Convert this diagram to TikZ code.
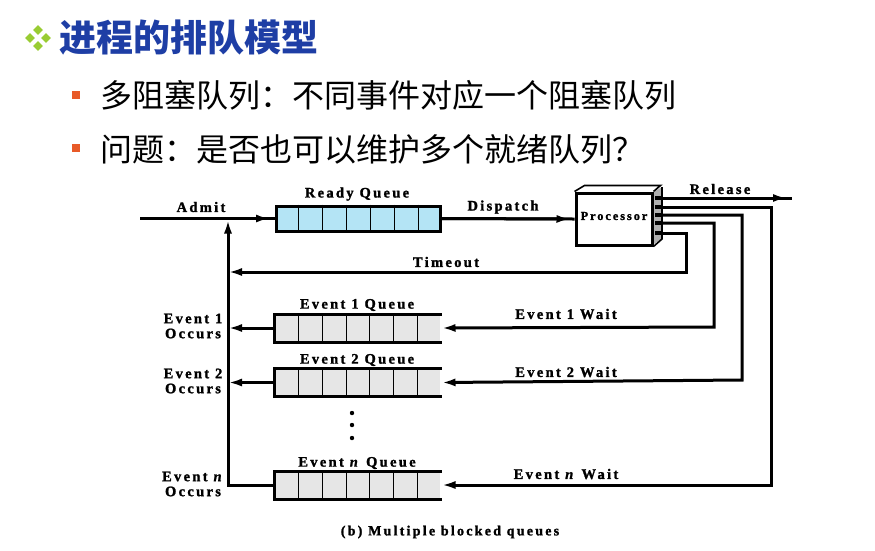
\documentclass[tikz,border=0pt]{standalone}
\usepackage{fontspec}
\setmainfont{Liberation Serif}
\newfontfamily\cjk{Noto Sans CJK SC}
\newfontfamily\diagfont[LetterSpace=16,FakeBold=1.5,ItalicFont={Liberation Serif Bold Italic}]{Liberation Serif Bold}
\usetikzlibrary{arrows.meta,calc}
\definecolor{titleblue}{RGB}{30,62,165}
\definecolor{bulgreen}{RGB}{153,204,51}
\definecolor{bulorange}{RGB}{232,90,40}
\definecolor{readyblue}{RGB}{180,228,245}
\definecolor{qgray}{RGB}{230,230,230}
\definecolor{sidegray}{RGB}{175,175,175}
\begin{document}
\begin{tikzpicture}[x=1pt,y=-1pt,
  ln/.style={line width=3pt},
  arr/.style={line width=3pt,-{Latex[length=14pt,width=8pt]}},
  lbl/.style={font=\diagfont\fontsize{14.5}{15}\selectfont,inner sep=0pt},
  occ/.style={lbl,align=center,font=\diagfont\fontsize{14.5}{15}\selectfont},
  qbox/.style={minimum width=164pt,minimum height=25pt,inner sep=0pt,line width=3pt},
  cell/.style={line width=1.1pt},
  bigtxt/.style={font=\cjk\fontsize{32}{36}\selectfont,inner sep=0pt,anchor=west},
  dia/.style={fill=bulgreen,draw=none},
  sq/.style={fill=bulorange,draw=none,minimum size=8pt,inner sep=0pt}
]
\useasboundingbox (0,0) rectangle (875,550);

% ---- heading ----
\foreach \dx/\dy [count=\k] in {0/-8,-8/0,8/0,0/8}
  \fill[dia] (38+\dx,38+\dy-4.8) -- (38+\dx+4.8,38+\dy) -- (38+\dx,38+\dy+4.8) -- (38+\dx-4.8,38+\dy) -- cycle;
\node[font=\cjk\bfseries\fontsize{37}{40}\selectfont,text=titleblue,inner sep=0pt,anchor=west] (title) at (59,38) {进程的排队模型};
\node[sq] (b1) at (76,95) {};
\node[bigtxt] (t1) at (100,95) {多阻塞队列：不同事件对应一个阻塞队列};
\node[sq] (b2) at (76,148) {};
\node[bigtxt] (t2) at (100,149) {问题：是否也可以维护多个就绪队列？};

% ---- queues ----
\node[qbox,fill=readyblue,draw] (rq) at (358.5,218.5) {};
\node[qbox,fill=qgray] (q1) at (358,328) {};
\node[qbox,fill=qgray] (q2) at (358,382.5) {};
\node[qbox,fill=qgray] (qn) at (358,485) {};
\foreach \q in {rq,q1,q2,qn}
  \foreach \i in {1,...,6}
    \draw[cell] ($(\q.north west)!\i/7!(\q.north east)$) -- ($(\q.south west)!\i/7!(\q.south east)$);
\foreach \q in {q1,q2,qn}
  \draw[line width=3pt] (\q.north east) -- (\q.north west) -- (\q.south west) -- (\q.south east);

% ---- processor ----
\fill[white] (576,193) -- (586,187) -- (662,187) -- (652,193) -- cycle;
\fill[sidegray] (652,193) -- (662,187) -- (662,239) -- (652,245) -- cycle;
\node[draw,line width=3pt,fill=white,minimum width=76pt,minimum height=52pt,inner sep=0pt] (proc) at (614,219) {};
\draw[line width=1.6pt] (proc.north west) -- ++(10,-6) -- ++(76,0) -- (proc.north east);
\draw[line width=1.6pt] (662,187) -- (662,239) -- (proc.south east);
\node[lbl,font=\diagfont\fontsize{12.3}{13}\selectfont] (proclbl) at (614,216) {Processor};

\foreach \y/\n in {198/p0,207/p1,215/p2,223/p3,233/p4}{
  \coordinate (\n) at (655,\y);
  \draw[line width=3.2pt] (\n) -- ++(8,0);
}

% ---- coordinates ----
\coordinate (admitStart) at (140,218.5);
\coordinate (join) at (228,219.5);
\coordinate (relEnd) at (792,198);
\coordinate (relTip) at (787,198);

% ---- connectors ----
\draw[ln] (admitStart) -- (rq.west);
\draw[arr] (admitStart) -- ([xshift=-5pt]rq.west);
\draw[ln] (rq.east) -- (proc.west);
\draw[arr] (rq.east) -- ([xshift=-4pt]proc.west);
\draw[ln] (p0) -- (relEnd);
\draw[arr] (p0) -- (relTip);
\draw[arr] (p4) -| (686,272) -- (228,272);
\draw[arr] (p3) -| (714,327) -- (q1.east);
\draw[arr] (p2) -| (742,380) -- (q2.east);
\draw[arr] (p1) -| (771,485) -- (qn.east);
\draw[arr] (q1.west) -- (228,328);
\draw[arr] (q2.west) -- (228,382.5);
\draw[arr] (qn.west) -| (join);

% ---- labels ----
\node[lbl] (admitlbl) at (201,207) {Admit};
\node[lbl] (rqlbl) at (357,194) {Ready Queue};
\node[lbl] (displbl) at (503,207) {Dispatch};
\node[lbl] (rellbl) at (720,189) {Release};
\node[lbl] (tolbl) at (446,262) {Timeout};
\node[lbl] (q1lbl) at (357,305) {Event 1 Queue};
\node[lbl] (q2lbl) at (357,360) {Event 2 Queue};
\node[lbl] (qnlbl) at (357,463) {Event \textit{n} Queue};
\node[lbl] (w1lbl) at (566,314) {Event 1 Wait};
\node[lbl] (w2lbl) at (566,372) {Event 2 Wait};
\node[lbl] (wnlbl) at (566,474) {Event \textit{n} Wait};
\node[occ] (o1lbl) at (193,326) {Event 1\\Occurs};
\node[occ] (o2lbl) at (193,381) {Event 2\\Occurs};
\node[occ] (onlbl) at (193,484) {Event \textit{n}\\Occurs};
\foreach \y [count=\k] in {413,425,438} \fill (352,\y) circle (2.2pt);
\node[lbl,font=\diagfont\fontsize{14}{15}\selectfont] (cap) at (450,532) {(b) Multiple blocked queues};
\end{tikzpicture}
\end{document}
